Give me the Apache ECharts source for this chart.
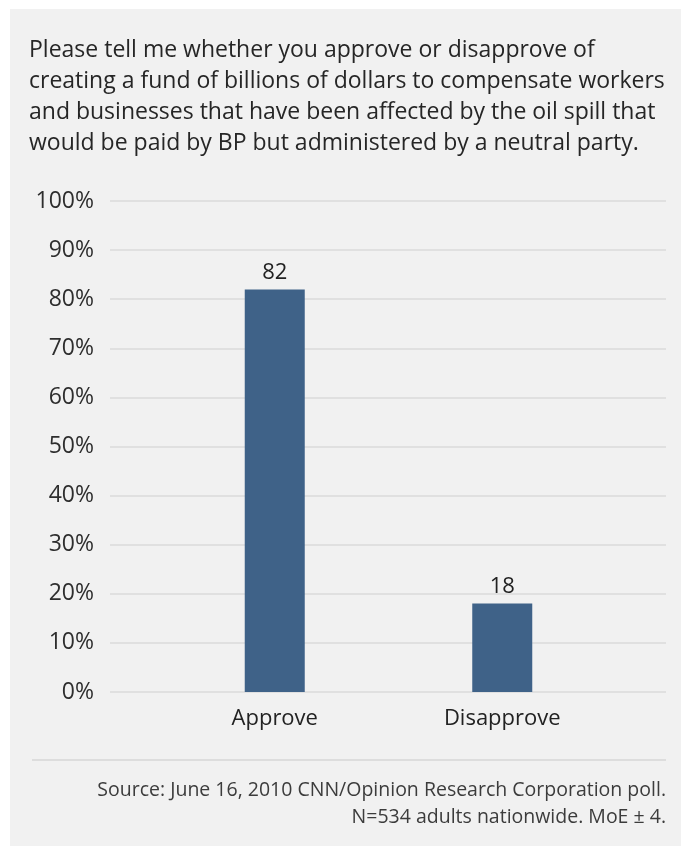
<!DOCTYPE html>
<html>
<head>
<meta charset="utf-8">
<script src="https://cdn.jsdelivr.net/npm/echarts@6/dist/echarts.min.js"></script>
<style>
  html, body { margin: 0; padding: 0; background: #ffffff; }
  #chart { width: 681px; height: 846px; }
</style>
</head>
<body>
<div id="chart"></div>
<script>
// Poll question, answers and shares (percent)
const questionText = 'Please tell me whether you approve or disapprove of\ncreating a fund of billions of dollars to compensate workers\nand businesses that have been affected by the oil spill that\nwould be paid by BP but administered by a neutral party.';
const categories = ['Approve', 'Disapprove'];
const shares = [82, 18];
const sourceLines = [
  'Source: June 16, 2010 CNN/Opinion Research Corporation poll.',
  'N=534 adults nationwide. MoE \u00B1 4.'
];

const FONT = '"Open Sans", "Noto Sans", sans-serif';
const TEXT = '#2e2e2e';

const chart = echarts.init(document.getElementById('chart'), null, { renderer: 'canvas' });

const yCommon = { type: 'value', min: 0, max: 100, interval: 10 };

chart.setOption({
  backgroundColor: '#ffffff',
  animation: false,
  title: {
    text: questionText,
    left: 24,
    top: 30,
    textStyle: { fontFamily: FONT, fontSize: 23, fontWeight: 'normal', color: '#262626', lineHeight: 31 }
  },
  graphic: [
    { type: 'rect', z: -10, shape: { x: 10, y: 9, width: 671, height: 837 }, style: { fill: '#f1f1f1' } },
    { type: 'line', shape: { x1: 32, y1: 760, x2: 666, y2: 760 }, style: { stroke: '#dddddd', lineWidth: 2 } },
    { type: 'text', x: 666, y: 790, style: { text: sourceLines[0], fontFamily: FONT, fontSize: 19.5, fill: '#3c3c3c', align: 'right', verticalAlign: 'middle' } },
    { type: 'text', x: 666, y: 817, style: { text: sourceLines[1], fontFamily: FONT, fontSize: 19.5, fill: '#3c3c3c', align: 'right', verticalAlign: 'middle' } }
  ],
  grid: [
    // gridline / y-label frame
    { left: 110, right: 15, top: 201, bottom: 154 },
    // bar frame
    { left: 161, right: 65, top: 201, bottom: 154 }
  ],
  xAxis: [
    { gridIndex: 0, type: 'category', data: categories, show: false },
    {
      gridIndex: 1, type: 'category', data: categories,
      axisLine: { show: false }, axisTick: { show: false },
      axisLabel: { margin: 16, fontFamily: FONT, fontSize: 22, color: '#222222' }
    }
  ],
  yAxis: [
    Object.assign({
      gridIndex: 0,
      axisLine: { show: false }, axisTick: { show: false },
      splitLine: { show: true, lineStyle: { color: '#e0e0e0', width: 2 } },
      axisLabel: { margin: 16, fontFamily: FONT, fontSize: 23, color: TEXT, formatter: '{value}%' }
    }, yCommon),
    Object.assign({ gridIndex: 1, show: false, splitLine: { show: false } }, yCommon)
  ],
  series: [{
    type: 'bar',
    xAxisIndex: 1,
    yAxisIndex: 1,
    data: shares,
    barWidth: 60,
    itemStyle: { color: '#3f6288' },
    label: { show: true, position: 'top', distance: 6, fontFamily: FONT, fontSize: 22, color: '#222222' }
  }]
});
</script>
</body>
</html>
